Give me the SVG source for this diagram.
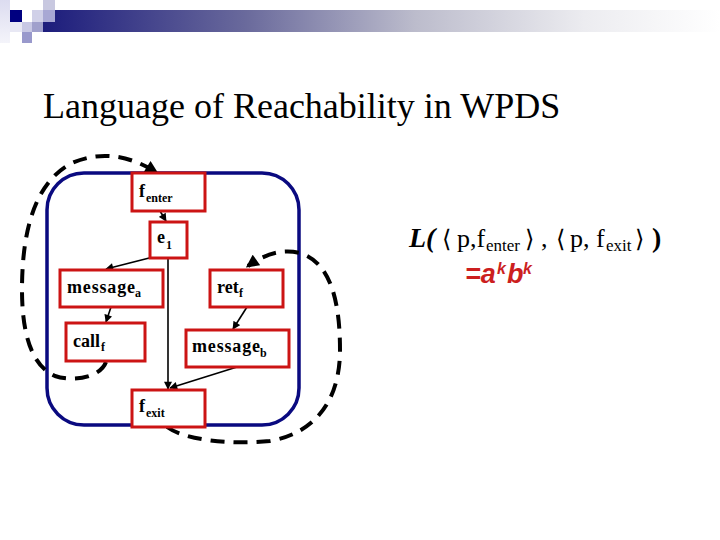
<svg xmlns="http://www.w3.org/2000/svg" width="720" height="540" viewBox="0 0 720 540">
<defs>
<linearGradient id="bar" x1="0" y1="0" x2="1" y2="0">
<stop offset="0" stop-color="#1c1c7c"/>
<stop offset="0.3" stop-color="#6a6a9c"/>
<stop offset="0.55" stop-color="#bcbccc"/>
<stop offset="0.8" stop-color="#ececf0"/>
<stop offset="1" stop-color="#ffffff"/>
</linearGradient>
<linearGradient id="strip" x1="0" y1="0" x2="0" y2="1">
<stop offset="0" stop-color="#dcdcf0"/>
<stop offset="1" stop-color="#f4f4fa"/>
</linearGradient>
<marker id="ah" viewBox="0 0 10 10" refX="9" refY="5" markerWidth="9" markerHeight="8" markerUnits="userSpaceOnUse" orient="auto">
<path d="M0,0 L10,5 L0,10 z" fill="#000"/>
</marker>
<marker id="ahBig" viewBox="0 0 10 10" refX="8" refY="5" markerWidth="14" markerHeight="13" markerUnits="userSpaceOnUse" orient="auto">
<path d="M0,0 L10,5 L0,10 z" fill="#000"/>
</marker>
</defs>
<style>
.node rect{fill:#fff;stroke:#cc1414;stroke-width:3}
.lbl{font-family:"Liberation Serif","Times New Roman",serif;font-weight:bold;font-size:18px;fill:#000}
.sub{font-family:"Liberation Serif","Times New Roman",serif;font-weight:bold;font-size:12px;fill:#000}
.edge{fill:none;stroke:#000;stroke-width:1.6;marker-end:url(#ah)}
.loop{fill:none;stroke:#000;stroke-width:4;stroke-dasharray:14 9;marker-end:url(#ahBig)}
.fx{font-family:"Liberation Serif","Times New Roman",serif;font-size:26px;fill:#000}
.fsub{font-size:17px}
.br{font-family:"DejaVu Serif","DejaVu Sans",serif;font-size:24px}
.red{font-family:"Liberation Sans",Arial,sans-serif;font-weight:bold;font-style:italic;fill:#cc1f1f}
</style>

<g id="header">
<rect x="0" y="0" width="10" height="43" fill="url(#strip)"/>
<rect x="43" y="10" width="677" height="22" fill="url(#bar)"/>
<rect x="43" y="0" width="12" height="10" fill="#c8c8e0"/>
<rect x="10" y="10" width="12" height="12" fill="#000080"/>
<rect x="32" y="10" width="11" height="12" fill="#d0d0e8"/>
<rect x="43" y="10" width="12" height="12" fill="#a8a8d4"/>
<rect x="10" y="22" width="12" height="10" fill="#e8e8f4"/>
<rect x="22" y="22" width="10" height="10" fill="#c8c8e4"/>
<rect x="32" y="22" width="11" height="10" fill="#a0a0cc"/>
<rect x="22" y="32" width="10" height="11" fill="#9999cc"/>
</g>

<text id="title" x="43" y="118" font-family="Liberation Serif, 'Times New Roman', serif" font-size="36" fill="#000">Language of Reachability in WPDS</text>

<g id="procedure">
<rect x="47" y="173" width="252" height="252" rx="37" ry="37" fill="none" stroke="#0a0a80" stroke-width="3.5"/>
</g>

<g id="connectors">
<line class="edge" x1="157" y1="206" x2="166" y2="221"/>
<line class="edge" x1="165" y1="254" x2="106" y2="269"/>
<line class="edge" x1="168" y1="258" x2="168" y2="389"/>
<line class="edge" x1="111" y1="307" x2="106" y2="322"/>
<line class="edge" x1="247" y1="307" x2="233" y2="329"/>
<line class="edge" x1="237" y1="367" x2="170" y2="388"/>
<path class="loop" d="M106,362 C100,378 72,382 55,376 C30,365 22,330 22,290 C22,230 35,182 72,163 C102,150 130,156 156,172"/>
<path class="loop" d="M167,427 C185,440 230,445 270,441 C320,432 340,395 340,350 C340,300 330,262 300,253 C280,248 262,256 248,266"/>
</g>

<g id="fenter" class="node">
<rect x="132" y="173" width="73" height="38"/>
<text class="lbl" x="139" y="197">f</text><text class="sub" x="146" y="202">enter</text>
</g>
<g id="e1" class="node">
<rect x="150" y="222" width="37" height="36"/>
<text class="lbl" x="157" y="243">e</text><text class="sub" x="166" y="249">1</text>
</g>
<g id="messagea" class="node">
<rect x="60" y="270" width="103" height="37"/>
<text class="lbl" x="67" y="293" textLength="68" lengthAdjust="spacing">message</text><text class="sub" x="135" y="297">a</text>
</g>
<g id="retf" class="node">
<rect x="210" y="270" width="73" height="37"/>
<text class="lbl" x="217" y="293">ret</text><text class="sub" x="239" y="297">f</text>
</g>
<g id="callf" class="node">
<rect x="66" y="323" width="79" height="38"/>
<text class="lbl" x="73" y="347">call</text><text class="sub" x="101" y="351">f</text>
</g>
<g id="messageb" class="node">
<rect x="186" y="330" width="103" height="37"/>
<text class="lbl" x="192" y="352" textLength="68" lengthAdjust="spacing">message</text><text class="sub" x="260" y="357">b</text>
</g>
<g id="fexit" class="node">
<rect x="132" y="390" width="73" height="37"/>
<text class="lbl" x="139" y="412">f</text><text class="sub" x="146" y="417">exit</text>
</g>

<g id="formula">
<text class="fx" y="247"><tspan x="409" font-weight="bold" font-style="italic" font-size="28">L(</tspan><tspan x="442" class="br">⟨</tspan><tspan x="457">p,f</tspan><tspan x="486" y="251" class="fsub">enter</tspan><tspan x="525" y="247" class="br">⟩</tspan><tspan x="541">,</tspan><tspan x="556" class="br">⟨</tspan><tspan x="570">p, f</tspan><tspan x="606" y="251" class="fsub">exit</tspan><tspan x="635" y="247" class="br">⟩</tspan><tspan x="652" font-weight="bold" font-size="28">)</tspan></text>
<text class="red" y="283" font-size="27"><tspan x="465">=a</tspan><tspan x="497" y="274" font-size="16">k</tspan><tspan x="507" y="283">b</tspan><tspan x="523" y="274" font-size="16">k</tspan></text>
</g>
</svg>
